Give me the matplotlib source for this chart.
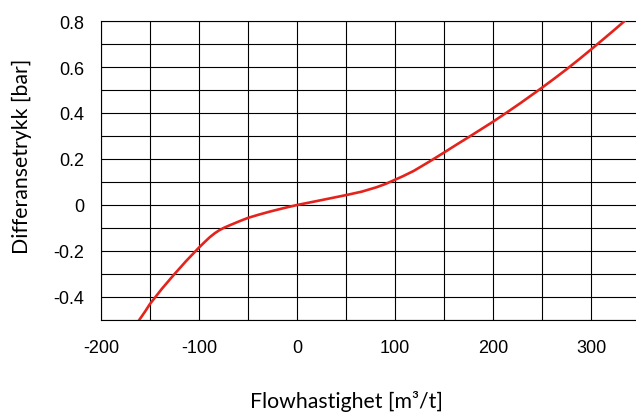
import matplotlib
matplotlib.use("Agg")
import matplotlib.pyplot as plt
from matplotlib.ticker import FixedLocator

plt.rcParams['axes.unicode_minus'] = False

# Data
flow = [-161, -155, -150, -138, -126, -113, -100, -94, -89, -84, -79, -74, -68, -59, -50, -39, -28, -14, 0,
        20, 35, 50, 66, 81, 90, 98, 108, 119, 136, 150, 163, 177, 200, 214, 228, 250, 263, 275, 288, 300, 314, 324, 334]
dp = [-0.50, -0.463, -0.430, -0.365, -0.305, -0.243, -0.185, -0.160, -0.140, -0.123, -0.109, -0.098, -0.087, -0.071, -0.056, -0.042, -0.029, -0.014, 0.0,
      0.017, 0.030, 0.043, 0.058, 0.077, 0.091, 0.106, 0.125, 0.148, 0.191, 0.228, 0.263, 0.300, 0.362, 0.402, 0.443, 0.510, 0.551, 0.590, 0.634, 0.676, 0.726, 0.762, 0.799]

x_ticks = [-200, -100, 0, 100, 200, 300]
x_ticklabels = ["-200", "-100", "0", "100", "200", "300"]
y_ticks = [-0.4, -0.2, 0, 0.2, 0.4, 0.6, 0.8]
y_ticklabels = ["-0.4", "-0.2", "0", "0.2", "0.4", "0.6", "0.8"]
x_grid = [-200, -150, -100, -50, 0, 50, 100, 150, 200, 250, 300]
y_grid = [-0.5, -0.4, -0.3, -0.2, -0.1, 0, 0.1, 0.2, 0.3, 0.4, 0.5, 0.6, 0.7, 0.8]

xlabel = "Flowhastighet [m³/t]"
ylabel = "Differansetrykk [bar]"

W, H = 636, 414
fig = plt.figure(figsize=(W / 100, H / 100), dpi=100)
ax = fig.add_axes([101 / W, 1 - 321 / H, (W - 101) / W, (321 - 22) / H])

ax.set_xlim(-200, -200 + (W - 101) / 0.98)
ax.set_ylim(-0.5, 0.8)

ax.xaxis.set_major_locator(FixedLocator(x_ticks))
ax.yaxis.set_major_locator(FixedLocator(y_ticks))
ax.set_xticklabels(x_ticklabels)
ax.set_yticklabels(y_ticklabels)

for xv in x_grid:
    ax.axvline(xv, color='black', lw=0.8, zorder=1)
for yv in y_grid:
    ax.axhline(yv, color='black', lw=0.8, zorder=1)

ax.plot(flow, dp, color='#e3231c', lw=1.9, zorder=3, solid_joinstyle='round')

ax.spines['right'].set_visible(False)
for s in ['left', 'bottom', 'top']:
    ax.spines[s].set_linewidth(0.8)
    ax.spines[s].set_color('black')

ax.tick_params(axis='both', length=0, labelsize=13)
ax.tick_params(axis='x', pad=14)
ax.tick_params(axis='y', pad=12)
for lab in ax.get_xticklabels() + ax.get_yticklabels():
    lab.set_fontfamily('Liberation Sans')

fig.text(22 / W, 1 - 156 / H, ylabel, rotation=90, ha='center', va='center',
         fontsize=15.3, family=['Lato', 'DejaVu Sans'])
fig.text(346 / W, 1 - 408 / H, xlabel, ha='center', va='baseline',
         fontsize=15.3, family=['Lato', 'DejaVu Sans'])

fig.savefig("out.png", dpi=100)
